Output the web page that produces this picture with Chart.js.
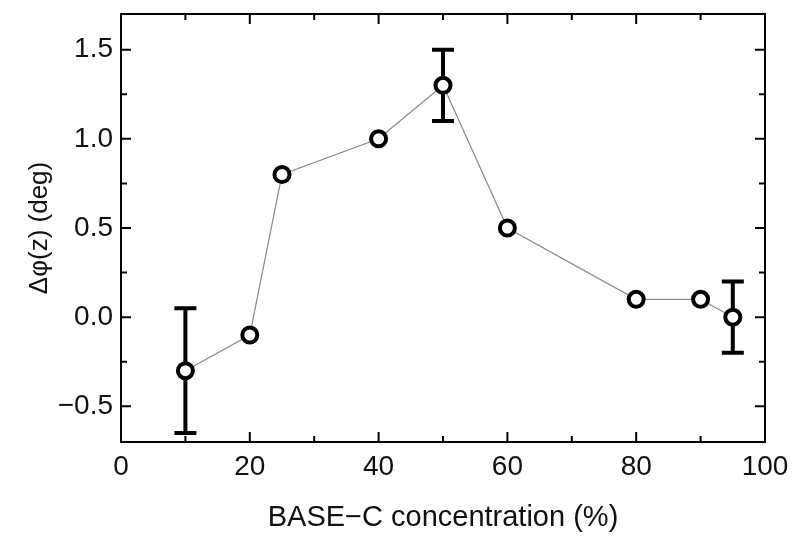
<!DOCTYPE html>
<html>
<head>
<meta charset="utf-8">
<script src="https://cdn.jsdelivr.net/npm/chart.js@4/dist/chart.umd.min.js"></script>
<style>
  html, body { margin: 0; padding: 0; background: #fff; }
  #wrap { width: 800px; height: 546px; }
</style>
</head>
<body>
<div id="wrap"><canvas id="chart" width="800" height="546"></canvas></div>
<script>
// data
const concentrations = [10, 20, 25, 40, 50, 60, 80, 90, 95];
const deltaPhi = [-0.3, -0.1, 0.8, 1.0, 1.3, 0.5, 0.1, 0.1, 0.0];
// error bars only on some points
const errLow = [-0.65, null, null, null, 1.1, null, null, null, -0.2];
const errHigh = [0.05, null, null, null, 1.5, null, null, null, 0.2];
const xMajor = [0, 20, 40, 60, 80, 100];
const xMinor = [10, 30, 50, 70, 90];
const yMajor = [-0.5, 0.0, 0.5, 1.0, 1.5];
const yMinor = [-0.25, 0.25, 0.75, 1.25];

const FONT = 'Liberation Sans, Arial, sans-serif';

// error bars + inward ticks + frame
const framePlugin = {
  id: 'frame',
  beforeDatasetsDraw(chart) {
    const { ctx, scales: { x, y } } = chart;
    ctx.save();
    ctx.strokeStyle = '#000';
    ctx.lineWidth = 4;
    for (let i = 0; i < concentrations.length; i++) {
      if (errLow[i] == null) continue;
      const px = x.getPixelForValue(concentrations[i]);
      const p1 = y.getPixelForValue(errLow[i]);
      const p2 = y.getPixelForValue(errHigh[i]);
      ctx.beginPath();
      ctx.moveTo(px, p1); ctx.lineTo(px, p2);
      ctx.moveTo(px - 11, p1); ctx.lineTo(px + 11, p1);
      ctx.moveTo(px - 11, p2); ctx.lineTo(px + 11, p2);
      ctx.stroke();
    }
    ctx.restore();
  },
  afterDraw(chart) {
    const { ctx, chartArea: a, scales: { x, y } } = chart;
    ctx.save();
    ctx.strokeStyle = '#000';
    ctx.lineWidth = 2;
    ctx.strokeRect(a.left, a.top, a.right - a.left, a.bottom - a.top);
    ctx.beginPath();
    const tx = (v, len) => {
      const px = x.getPixelForValue(v);
      ctx.moveTo(px, a.bottom); ctx.lineTo(px, a.bottom - len);
      ctx.moveTo(px, a.top); ctx.lineTo(px, a.top + len);
    };
    const ty = (v, len) => {
      const py = y.getPixelForValue(v);
      ctx.moveTo(a.left, py); ctx.lineTo(a.left + len, py);
      ctx.moveTo(a.right, py); ctx.lineTo(a.right - len, py);
    };
    xMajor.forEach(v => tx(v, 10));
    xMinor.forEach(v => tx(v, 6));
    yMajor.forEach(v => ty(v, 10));
    yMinor.forEach(v => ty(v, 6));
    ctx.stroke();
    ctx.restore();
  }
};

new Chart(document.getElementById('chart'), {
  type: 'scatter',
  data: {
    datasets: [{
      data: concentrations.map((c, i) => ({ x: c, y: deltaPhi[i] })),
      showLine: true,
      borderColor: '#8a8a8a',
      borderWidth: 1.2,
      pointRadius: 7.5,
      pointBorderWidth: 4,
      pointBorderColor: '#000',
      pointBackgroundColor: '#fff'
    }]
  },
  options: {
    responsive: false,
    animation: false,
    layout: { padding: { top: 14, right: 35, left: 0, bottom: 0 } },
    plugins: { legend: { display: false }, tooltip: { enabled: false } },
    scales: {
      x: {
        type: 'linear',
        min: 0, max: 100,
        afterBuildTicks: s => { s.ticks = xMajor.map(v => ({ value: v })); },
        afterFit: s => { s.height = 104; s.paddingLeft = 0; s.paddingRight = 0; },
        grid: { display: false },
        border: { display: false },
        ticks: { color: '#111', font: { family: FONT, size: 28 }, padding: 0, maxRotation: 0 },
        title: { display: true, text: 'BASE\u2212C concentration (%)', color: '#111', font: { family: FONT, size: 29 }, padding: { top: 4, bottom: 11 } }
      },
      y: {
        type: 'linear',
        min: -0.7, max: 1.7,
        afterBuildTicks: s => { s.ticks = yMajor.map(v => ({ value: v })); },
        afterFit: s => { s.width = 121; s.paddingTop = 0; s.paddingBottom = 0; },
        grid: { display: false },
        border: { display: false },
        ticks: {
          color: '#111', font: { family: FONT, size: 28 }, padding: 0,
          callback: v => (v < 0 ? '\u2212' : '') + Math.abs(v).toFixed(1)
        },
        title: { display: true, text: '\u0394\u03c6(z) (deg)', color: '#111', font: { family: FONT, size: 26 }, padding: { top: 24, bottom: 0 } }
      }
    }
  },
  plugins: [framePlugin]
});
</script>
</body>
</html>
